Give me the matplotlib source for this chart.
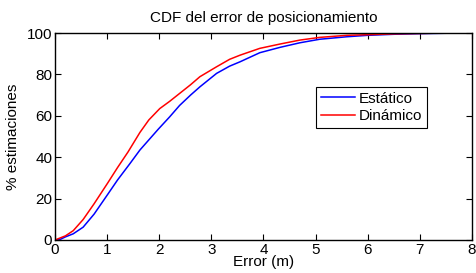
import numpy as np
import matplotlib
matplotlib.use("Agg")
import matplotlib.pyplot as plt

plt.rcParams['font.family'] = ['Liberation Sans', 'DejaVu Sans']

# error (m) and cumulative percentage
err_estatico = [0, 0.1, 0.2, 0.35, 0.54, 0.75, 1.01, 1.2, 1.44, 1.63, 1.98, 2.2,
                2.39, 2.6, 2.78, 3.1, 3.35, 3.55, 3.93, 4.32, 4.7, 5.08, 5.6,
                6.0, 6.5, 7.0, 7.5, 8.0]
cdf_estatico = [0, 0.3, 1.5, 3.0, 6.2, 12.5, 22.0, 29.0, 37.0, 43.5, 53.5, 59.5,
                65.0, 70.0, 74.0, 80.5, 84.0, 86.1, 90.5, 93.1, 95.3, 97.0, 98.2,
                98.9, 99.4, 99.7, 99.9, 100]

err_dinamico = [0, 0.1, 0.2, 0.35, 0.54, 0.75, 1.01, 1.2, 1.4, 1.63, 1.8, 2.01,
                2.2, 2.39, 2.6, 2.78, 3.1, 3.35, 3.55, 3.93, 4.32, 4.7, 5.08,
                5.6, 6.0, 6.5, 7.0, 7.5, 8.0]
cdf_dinamico = [0, 1.0, 2.0, 4.5, 9.9, 17.5, 27.5, 35.0, 42.5, 52.0, 58.0, 63.5,
                67.0, 70.8, 75.0, 78.9, 83.7, 87.3, 89.3, 92.6, 94.7, 96.6, 97.9,
                98.9, 99.2, 99.6, 99.8, 100, 100]

fig = plt.figure(figsize=(4.77, 2.73), dpi=100)
ax = fig.add_axes([0.1153, 0.1209, 0.8742, 0.7581])

ax.plot(err_estatico, cdf_estatico, color='#0000ff', lw=1.1, label='Estático')
ax.plot(err_dinamico, cdf_dinamico, color='#ff0000', lw=1.1, label='Dinámico')

ax.set_xlim(0, 8)
ax.set_ylim(0, 100)
ax.set_xticks(range(0, 9))
ax.set_yticks(range(0, 101, 20))
ax.tick_params(direction='in', top=True, right=True, labelsize=11, length=4,
               width=0.8, pad=2)
for s in ax.spines.values():
    s.set_linewidth(1.0)

ax.set_title('CDF del error de posicionamiento', fontsize=11, pad=8)
ax.set_xlabel('Error (m)', fontsize=11, labelpad=-1)
ax.set_ylabel('% estimaciones', fontsize=11, labelpad=5)

leg = ax.legend(loc='upper left', bbox_to_anchor=(0.626, 0.741), fontsize=11,
                fancybox=False, framealpha=1, edgecolor='black',
                handlelength=2.2, borderpad=0.32, labelspacing=0.25,
                handletextpad=0.3, borderaxespad=0)
leg.get_frame().set_linewidth(0.8)

fig.savefig('out.png', dpi=100)
